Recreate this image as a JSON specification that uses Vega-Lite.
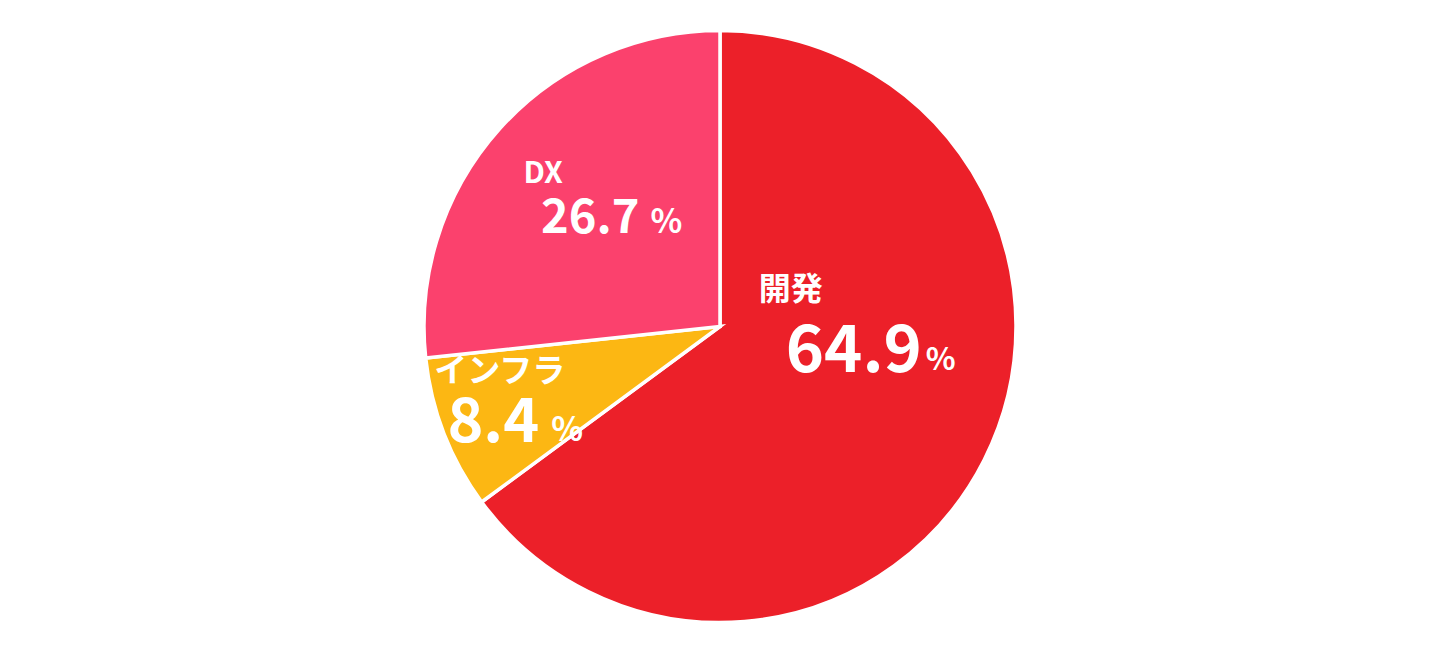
{
  "$schema": "https://vega.github.io/schema/vega-lite/v6.json",
  "width": 1440,
  "height": 653,
  "autosize": {"type": "fit", "contains": "padding"},
  "background": "#ffffff",
  "view": {"stroke": null},
  "data": {"values": [
    {"cat": "開発", "pct": 64.9, "o": 1},
    {"cat": "インフラ", "pct": 8.4, "o": 2},
    {"cat": "DX", "pct": 26.7, "o": 3}
  ]},
  "encoding": {
    "theta": {"field": "pct", "type": "quantitative", "stack": true},
    "order": {"field": "o", "type": "quantitative"}
  },
  "layer": [
    {
      "mark": {"type": "arc", "outerRadius": 296, "stroke": "#ffffff", "strokeWidth": 3.5},
      "encoding": {
        "color": {"field": "cat", "type": "nominal", "legend": null,
          "scale": {"domain": ["開発", "インフラ", "DX"], "range": ["#EC2029", "#FCB713", "#FB416D"]}}
      }
    },
    {
      "mark": {"type": "text", "radius": 150, "font": "Noto Sans CJK JP", "fontWeight": "bold", "fill": "#ffffff", "fontSize": 32, "align": "left", "baseline": "alphabetic", "dx": -95, "dy": -94},
      "encoding": {"text": {"condition": {"test": "datum.cat === '開発'", "field": "cat", "type": "nominal"}, "value": ""}}
    },
    {
      "mark": {"type": "text", "radius": 150, "font": "Noto Sans CJK JP", "fontWeight": "bold", "fill": "#ffffff", "fontSize": 65, "align": "right", "baseline": "alphabetic", "dx": 68, "dy": -22},
      "encoding": {"text": {"condition": {"test": "datum.cat === '開発'", "field": "pct", "type": "quantitative", "format": ".1f"}, "value": ""}}
    },
    {
      "mark": {"type": "text", "radius": 150, "font": "Noto Sans CJK JP", "fontWeight": "bold", "fill": "#ffffff", "fontSize": 31, "align": "left", "baseline": "alphabetic", "dx": 72, "dy": -24},
      "encoding": {"text": {"condition": {"test": "datum.cat === '開発'", "value": "%"}, "value": ""}}
    },
    {
      "mark": {"type": "text", "radius": 150, "font": "Noto Sans CJK JP", "fontWeight": "bold", "fill": "#ffffff", "fontSize": 30, "align": "left", "baseline": "alphabetic", "dx": -85, "dy": -43},
      "encoding": {"text": {"condition": {"test": "datum.cat === 'DX'", "field": "cat", "type": "nominal"}, "value": ""}}
    },
    {
      "mark": {"type": "text", "radius": 150, "font": "Noto Sans CJK JP", "fontWeight": "bold", "fill": "#ffffff", "fontSize": 47, "align": "right", "baseline": "alphabetic", "dx": 31, "dy": 7},
      "encoding": {"text": {"condition": {"test": "datum.cat === 'DX'", "field": "pct", "type": "quantitative", "format": ".1f"}, "value": ""}}
    },
    {
      "mark": {"type": "text", "radius": 150, "font": "Noto Sans CJK JP", "fontWeight": "bold", "fill": "#ffffff", "fontSize": 33, "align": "left", "baseline": "alphabetic", "dx": 42, "dy": 7},
      "encoding": {"text": {"condition": {"test": "datum.cat === 'DX'", "value": "%"}, "value": ""}}
    },
    {
      "mark": {"type": "text", "radius": 150, "font": "Noto Sans CJK JP", "fontWeight": "bold", "fill": "#ffffff", "fontSize": 33, "align": "left", "baseline": "alphabetic", "dx": -146, "dy": 1},
      "encoding": {"text": {"condition": {"test": "datum.cat === 'インフラ'", "field": "cat", "type": "nominal"}, "value": ""}}
    },
    {
      "mark": {"type": "text", "radius": 150, "font": "Noto Sans CJK JP", "fontWeight": "bold", "fill": "#ffffff", "fontSize": 61, "align": "right", "baseline": "alphabetic", "dx": -41, "dy": 61},
      "encoding": {"text": {"condition": {"test": "datum.cat === 'インフラ'", "field": "pct", "type": "quantitative", "format": ".1f"}, "value": ""}}
    },
    {
      "mark": {"type": "text", "radius": 150, "font": "Noto Sans CJK JP", "fontWeight": "bold", "fill": "#ffffff", "fontSize": 33, "align": "left", "baseline": "alphabetic", "dx": -29, "dy": 60},
      "encoding": {"text": {"condition": {"test": "datum.cat === 'インフラ'", "value": "%"}, "value": ""}}
    }
  ]
}
